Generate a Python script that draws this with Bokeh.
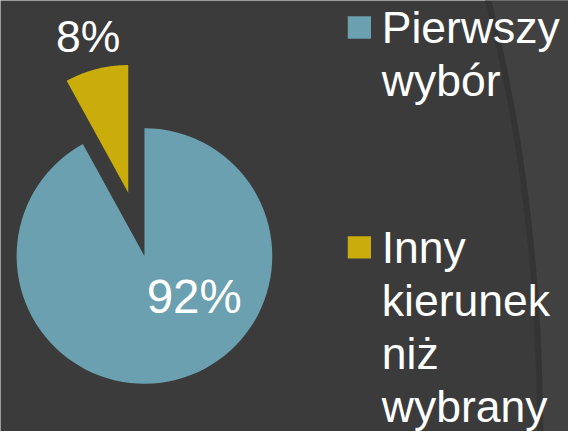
import math
import numpy as np
from bokeh.plotting import figure
from bokeh.models import ColumnDataSource, Range1d
from bokeh.core.properties import value
from bokeh.embed import file_html
from bokeh.resources import INLINE

# ---- data ----
categories = ["Pierwszy wybór", "Inny kierunek niż wybrany"]
percent = [92, 8]
colors = ["#6BA0B0", "#CAAC0B"]
explode = [0.0, 0.51]

# ---- layout ----
W, H = 568, 431
REF_W, REF_H = 584, 447
SX, SY = W / REF_W, H / REF_H
S = (SX + SY) / 2
BG = "#3B3B3B"
BASE_FIX = 0.36  # em: lift so glyph baseline lands where intended

def fx(px):
    return px * SX

def fy(py):
    return H - py * SY

CX, CY = fx(148), fy(265)
R = 132 * S

p = figure(width=W, height=H, output_backend="svg", toolbar_location=None,
           x_range=Range1d(0, W), y_range=Range1d(0, H),
           x_axis_type=None, y_axis_type=None, min_border=0)
p.background_fill_color = BG
p.border_fill_color = BG
p.outline_line_color = None

# subtle theme decoration at the right edge
yy = np.linspace(-10, 470, 60)
t = (yy + 10) / 480.0
xx = 502 + 56 * (1 - (1 - t) ** 2.2)
p.patch(list(fx(xx)) + [W + 5, W + 5], list(fy(yy)) + [fy(470), fy(-10)],
        fill_color="#414141", line_color=None)
p.line(fx(xx) - 3, fy(yy), line_color="#343434", line_width=6, line_alpha=0.9)

# ---- pie wedges ----
total = float(sum(percent))
fracs = [v / total for v in percent]
cum = np.concatenate([[0.0], np.cumsum(fracs)])

def theta(f):
    return math.pi / 2 - 2 * math.pi * f

starts, ends, xs, ys, mids = [], [], [], [], []
for i, f in enumerate(fracs):
    a0 = theta(cum[i + 1])
    a1 = theta(cum[i])
    mid = (a0 + a1) / 2
    starts.append(a0)
    ends.append(a1)
    mids.append(mid)
    xs.append(CX + explode[i] * R * math.cos(mid))
    ys.append(CY + explode[i] * R * math.sin(mid))

src = ColumnDataSource(dict(x=xs, y=ys, s=starts, e=ends, c=colors))
p.wedge(x="x", y="y", radius=R, start_angle="s", end_angle="e",
        direction="anticlock", fill_color="c", line_color=None, source=src)

# ---- data labels ----
label_r = [0.5, 1.263]
label_ang = [math.radians(-38.9), None]
label_size = [49 * S, 46 * S]
for i, v in enumerate(percent):
    ang = label_ang[i] if label_ang[i] is not None else mids[i]
    lx = xs[i] + label_r[i] * R * math.cos(ang)
    ly = ys[i] + label_r[i] * R * math.sin(ang)
    fs = label_size[i]
    p.text(x=[lx], y=[ly - 0.36 * fs + BASE_FIX * fs], text=[f"{v}%"],
           text_font=value("Liberation Sans"), text_font_size=f"{fs:.1f}px",
           text_color="white", text_align="center", text_baseline="alphabetic")

# ---- legend ----
LEG_FS = 46 * S
LINE_H = 55
leg_baseline = [45, 273]
SQ_X0, SQ = 357, 24
TXT_X = 392
for i, cat in enumerate(categories):
    b = leg_baseline[i]
    p.rect(x=[fx(SQ_X0 + SQ / 2)], y=[fy(b - 17)], width=SQ * S, height=(SQ - 1) * S,
           fill_color=colors[i], line_color=None)
    lines = cat.split(" ")
    p.text(x=[fx(TXT_X)] * len(lines),
           y=[fy(b + k * LINE_H) + BASE_FIX * LEG_FS for k in range(len(lines))],
           text=lines, text_font=value("Liberation Sans"),
           text_font_size=f"{LEG_FS:.1f}px", text_color="white",
           text_align="left", text_baseline="alphabetic")

open("out.html", "w").write(file_html(p, INLINE))
